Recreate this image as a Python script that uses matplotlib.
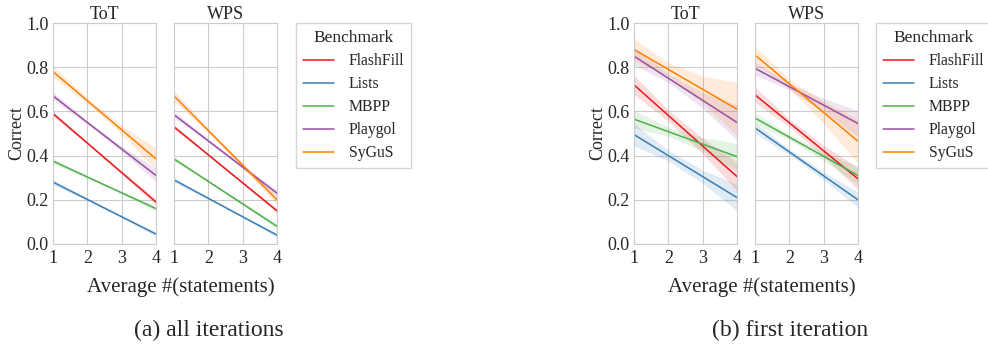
import numpy as np
import matplotlib.pyplot as plt
import seaborn as sns

sns.set_style("whitegrid")
plt.rcParams["font.family"] = ["Liberation Serif", "DejaVu Serif"]

benchmarks = ["FlashFill", "Lists", "MBPP", "Playgol", "SyGuS"]
colors = ["#e41a1c", "#377eb8", "#4daf4a", "#984ea3", "#ff7f00"]
x_pts = [1, 4]
x_band = [1, 2, 3, 4]

# regression line end values (at x=1 and x=4) per panel
all_tot = [[0.59, 0.19], [0.28, 0.045], [0.375, 0.16], [0.67, 0.31], [0.78, 0.385]]
all_wps = [[0.53, 0.15], [0.29, 0.04], [0.385, 0.08], [0.585, 0.23], [0.67, 0.20]]
first_tot = [[0.72, 0.305], [0.495, 0.21], [0.565, 0.395], [0.85, 0.55], [0.88, 0.61]]
first_wps = [[0.675, 0.295], [0.525, 0.20], [0.57, 0.31], [0.795, 0.545], [0.855, 0.465]]

# confidence band half-widths at x = 1, 2, 3, 4
all_tot_ci = [[0.012, 0.006, 0.008, 0.015], [0.012, 0.006, 0.006, 0.010], [0.012, 0.006, 0.006, 0.012],
              [0.018, 0.008, 0.012, 0.030], [0.025, 0.012, 0.020, 0.050]]
all_wps_ci = [[0.010, 0.005, 0.006, 0.010], [0.010, 0.005, 0.005, 0.008], [0.010, 0.005, 0.006, 0.010],
              [0.015, 0.007, 0.008, 0.015], [0.025, 0.010, 0.012, 0.020]]
first_tot_ci = [[0.045, 0.025, 0.035, 0.065], [0.050, 0.025, 0.030, 0.060], [0.040, 0.020, 0.030, 0.060],
                [0.040, 0.020, 0.035, 0.080], [0.050, 0.030, 0.060, 0.120]]
first_wps_ci = [[0.035, 0.018, 0.025, 0.050], [0.025, 0.012, 0.018, 0.035], [0.025, 0.012, 0.020, 0.040],
                [0.030, 0.015, 0.030, 0.060], [0.040, 0.020, 0.050, 0.100]]

W, H = 988, 344
fig = plt.figure(figsize=(W / 100, H / 100), dpi=100)


def px_axes(x0, x1, y0, y1):
    return fig.add_axes([x0 / W, 1 - y1 / H, (x1 - x0) / W, (y1 - y0) / H])


def panel(ax, lines, cis, title, ylabel):
    for name, col, ends, ci in zip(benchmarks, colors, lines, cis):
        ax.plot(x_pts, ends, color=col, lw=1.1, label=name)
        mid = np.interp(x_band, x_pts, ends)
        ax.fill_between(x_band, mid - np.array(ci), mid + np.array(ci), color=col, alpha=0.15, lw=0)
    ax.set_xlim(1, 4)
    ax.set_ylim(0, 1)
    ax.set_xticks([1, 2, 3, 4])
    ax.set_yticks([0, 0.2, 0.4, 0.6, 0.8, 1.0])
    ax.set_title(title, fontsize=13, pad=3)
    ax.tick_params(labelsize=13, pad=3, length=0)
    ax.tick_params(axis="x", pad=4)
    for s in ax.spines.values():
        s.set_color("#cccccc")
    if ylabel:
        ax.set_ylabel("Correct", fontsize=13, labelpad=1)
    else:
        ax.set_yticklabels([])


configs = [
    (53, 174, all_tot, all_wps, all_tot_ci, all_wps_ci, 296, 181, 209, "(a) all iterations"),
    (634, 755, first_tot, first_wps, first_tot_ci, first_wps_ci, 876, 762, 790, "(b) first iteration"),
]
for x_tot, x_wps, tot, wps, tot_ci, wps_ci, leg_x, xl_x, cap_x, caption in configs:
    a1 = px_axes(x_tot, x_tot + 103, 23, 244)
    a2 = px_axes(x_wps, x_wps + 103, 23, 244)
    panel(a1, tot, tot_ci, "ToT", True)
    panel(a2, wps, wps_ci, "WPS", False)
    h, l = a1.get_legend_handles_labels()
    leg = fig.legend(h, l, title="Benchmark", loc="upper left", bbox_to_anchor=(leg_x / W, 1 - 23 / H),
                     fontsize=11.3, title_fontsize=12.5, frameon=True, fancybox=False,
                     handlelength=2.0, borderpad=0.45, borderaxespad=0, labelspacing=0.45,
                     handletextpad=0.9)
    leg.get_frame().set_edgecolor("#cccccc")
    fig.text(xl_x / W, 1 - 287 / H, "Average #(statements)", ha="center", va="center", fontsize=15)
    fig.text(cap_x / W, 1 - 330 / H, caption, ha="center", va="center", fontsize=17)

fig.savefig("out.png", dpi=100)
